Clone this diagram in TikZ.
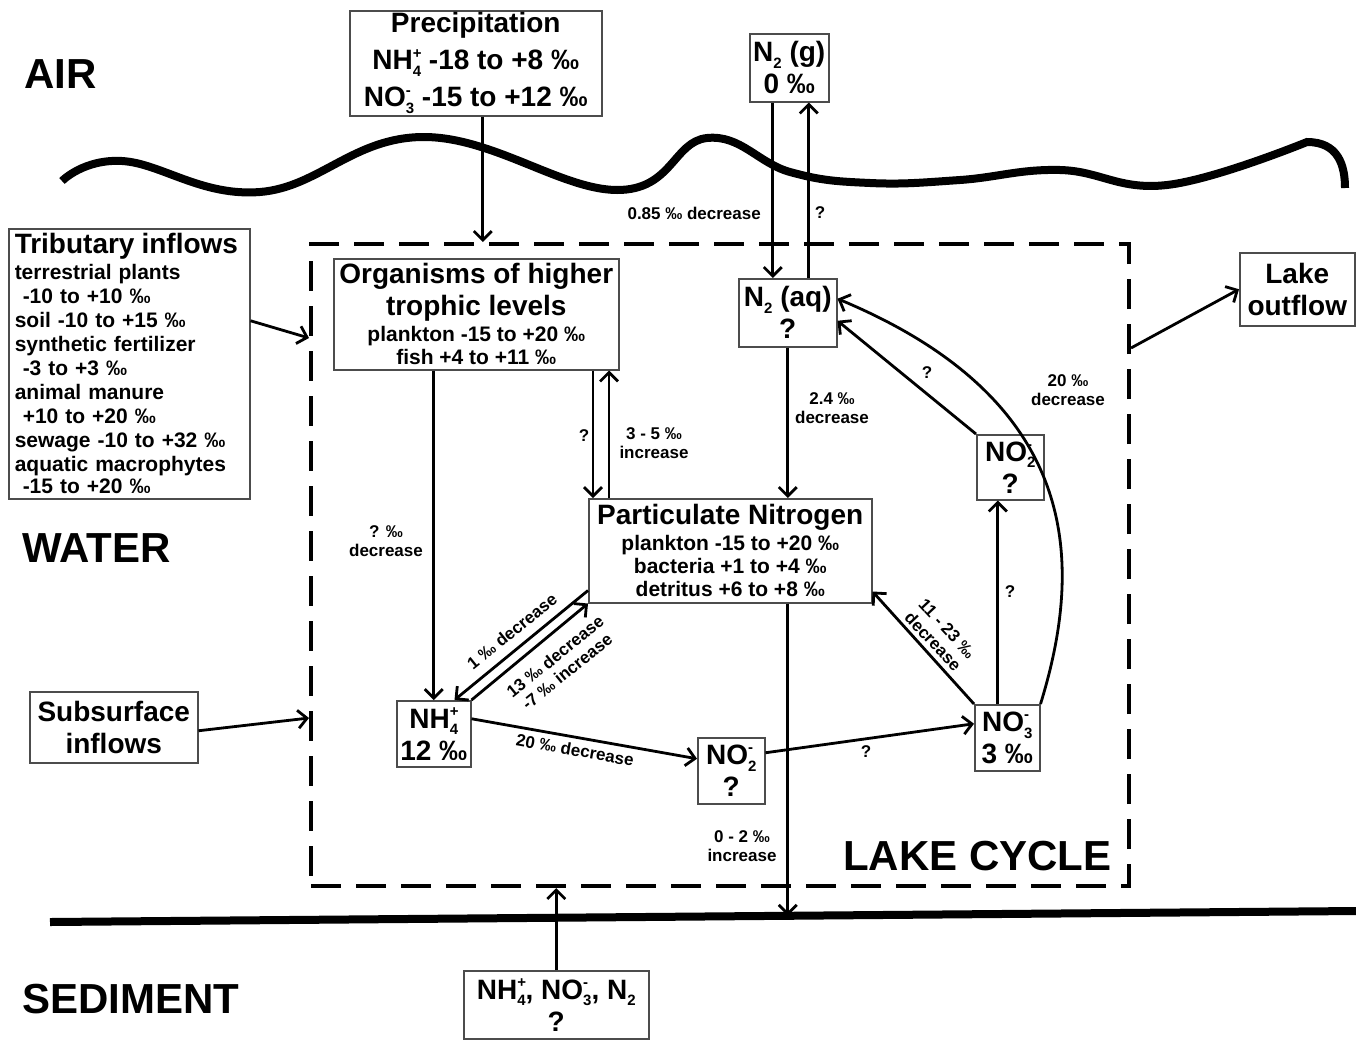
\documentclass[tikz,border=0pt]{standalone}
\usepackage{fontspec}
\setmainfont{Liberation Sans}
\usetikzlibrary{arrows.meta,calc}
\newcommand{\ionx}[3]{#1\rlap{\raisebox{0.8ex}{\fontsize{15}{15}\selectfont #3}}\raisebox{-0.45ex}{\fontsize{15}{15}\selectfont #2}}
\newcommand{\Hd}{\fontsize{28}{33}\selectfont}
\newcommand{\Bd}{\fontsize{21}{24}\selectfont}
\begin{document}
\begin{tikzpicture}[x=1pt,y=-1pt,
  box/.style={draw=black!70, line width=1.5pt, fill=white, inner sep=0pt, align=center, anchor=north west, font=\bfseries\fontsize{21}{22}\selectfont},
  arr/.style={line width=2.8pt, -{Straight Barb[length=9pt,width=18pt]}},
  lab/.style={font=\bfseries\fontsize{17}{19}\selectfont, inner sep=1pt, align=center},
  big/.style={font=\bfseries\fontsize{42}{48}\selectfont, inner sep=0pt, anchor=base west}]
\useasboundingbox (0,0) rectangle (1356,1039);

% zone titles
\node[big] (air) at (24,88) {AIR};
\node[big] (water) at (22,562) {WATER};
\node[big] (sediment) at (22,1013) {SEDIMENT};
\node[big] (lakecycle) at (843,870) {LAKE CYCLE};

% water surface and sediment surface
\draw[line width=8pt] plot[smooth, tension=0.7] coordinates {(62,181) (122,161) (260,192) (423,137) (617,190) (707,138) (790,172) (870,183) (960,180) (1060,170) (1167,185) (1307,142)}
  .. controls (1338,142) and (1345,165) .. (1345,188);
\coordinate (sedL) at (50,922);
\coordinate (sedR) at (1356,911);
\draw[line width=8pt] (sedL) -- (sedR);

% lake cycle box
\node[draw, line width=4pt, dash pattern=on 30pt off 15pt, minimum width=818pt, minimum height=642pt, anchor=north west, inner sep=0pt] (lake) at (309,242) {};

% boxes
\node[box, minimum width=252pt, minimum height=105pt, font=\bfseries\fontsize{28}{36}\selectfont] (prec) at (349,10)
  {\Hd Precipitation\\[1pt] \Hd\ionx{NH}{4}{+} -18 to +8 ‰\\[1pt] \Hd\ionx{NO}{3}{-} -15 to +12 ‰};
\node[box, minimum width=79pt, minimum height=68pt, font=\bfseries\fontsize{28}{32}\selectfont] (n2g) at (749,33)
  {\Hd\ionx{N}{2}{} (g)\\ \Hd 0 ‰};
\node[box, minimum width=241pt, minimum height=270pt, align=left, text width=229pt, inner xsep=6pt] (trib) at (8,228)
  {\Hd Tributary inflows\\[2pt]
   \Bd terrestrial plants\\
   \Bd\hspace*{8pt}-10 to +10 ‰\\
   \Bd soil -10 to +15 ‰\\
   \Bd synthetic fertilizer\\
   \Bd\hspace*{8pt}-3 to +3 ‰\\
   \Bd animal manure\\
   \Bd\hspace*{8pt}+10 to +20 ‰\\
   \Bd sewage -10 to +32 ‰\\
   \Bd aquatic macrophytes\\
   \Bd\hspace*{8pt}-15 to +20 ‰};
\node[box, minimum width=168pt, minimum height=71pt, font=\bfseries\fontsize{28}{32}\selectfont] (subs) at (29,691)
  {\Hd Subsurface\\ \Hd inflows};
\node[box, minimum width=115pt, minimum height=73pt, font=\bfseries\fontsize{28}{32}\selectfont] (outf) at (1239,252)
  {\Hd Lake\\ \Hd outflow};
\node[box, minimum width=285pt, minimum height=111pt] (org) at (333,258)
  {\Hd Organisms of higher\\[5pt] \Hd trophic levels\\[4pt] \Bd plankton -15 to +20 ‰\\[1pt] \Bd fish +4 to +11 ‰};
\node[box, minimum width=98pt, minimum height=68pt, font=\bfseries\fontsize{28}{32}\selectfont] (n2aq) at (738,278)
  {\Hd\ionx{N}{2}{} (aq)\\ \Hd ?};
\node[box, minimum width=283pt, minimum height=104pt] (pn) at (588,498)
  {\Hd Particulate Nitrogen\\[4pt] \Bd plankton -15 to +20 ‰\\[1pt] \Bd bacteria +1 to +4 ‰\\[1pt] \Bd detritus +6 to +8 ‰};
\node[box, minimum width=67pt, minimum height=65pt, font=\bfseries\fontsize{28}{32}\selectfont] (no2r) at (976,434)
  {\Hd\ionx{NO}{2}{-}\\ \Hd ?};
\node[box, minimum width=74pt, minimum height=66pt, font=\bfseries\fontsize{28}{32}\selectfont] (nh4) at (396,700)
  {\Hd\ionx{NH}{4}{+}\\ \Hd 12 ‰};
\node[box, minimum width=67pt, minimum height=66pt, font=\bfseries\fontsize{28}{32}\selectfont] (no2m) at (697,737)
  {\Hd\ionx{NO}{2}{-}\\ \Hd ?};
\node[box, minimum width=65pt, minimum height=66pt, font=\bfseries\fontsize{28}{32}\selectfont] (no3) at (974,704)
  {\Hd\ionx{NO}{3}{-}\\ \Hd 3 ‰};
\node[box, minimum width=185pt, minimum height=68pt, font=\bfseries\fontsize{28}{32}\selectfont] (sed) at (463,970)
  {\Hd\ionx{NH}{4}{+}, \ionx{NO}{3}{-}, \ionx{N}{2}{}\\ \Hd ?};

% connectors
\coordinate (c1) at ([xshift=7pt]prec.south);
\draw[arr] (c1) -- (c1 |- lake.north);
\coordinate (c2) at ([xshift=-16.5pt]n2g.south);
\draw[arr] (c2) -- (c2 |- n2aq.north);
\coordinate (c3) at ([xshift=19.5pt]n2g.south);
\draw[arr] (c3 |- n2aq.north) -- (c3);
\draw[arr] (n2aq.south) -- (n2aq.south |- pn.north);
\draw[arr] (nh4.north |- org.south) -- (nh4.north);
\coordinate (c6) at ([xshift=5pt]pn.north west);
\draw[arr] (c6 |- org.south) -- (c6);
\coordinate (c7) at ([xshift=21pt]pn.north west);
\draw[arr] (c7) -- (c7 |- org.south);
\draw[arr] ([yshift=13pt]pn.south west) -- ([xshift=-17pt]nh4.north east);
\draw[arr] (nh4.north east) -- (pn.south west);
\draw[arr] ([yshift=15pt]nh4.east) -- ([yshift=12pt]no2m.west);
\draw[arr] ([yshift=18pt]no2m.east) -- ([yshift=14pt]no3.west);
\draw[arr] (no3.north west) -- ([yshift=12pt]pn.south east);
\coordinate (c13) at ([xshift=-9.5pt]no3.north);
\draw[arr] (c13) -- (c13 |- no2r.south);
\draw[arr] (no2r.north west) -- ([yshift=-8pt]n2aq.east);
\draw[arr] (no3.north east) .. controls (1085,560) and (1080,400) .. ([yshift=14pt]n2aq.east);
\coordinate (hit) at ($(sedL)!0.5644!(sedR)$);
\coordinate (c16) at ([xshift=57.5pt]pn.south);
\draw[arr] (c16) -- (c16 |- hit);
\draw[arr] (sed.north) -- (sed.north |- lake.south);
\coordinate (tribin) at ($(lake.north west)+(0,96)$);
\draw[arr] ([yshift=43pt]trib.east) -- (tribin);
\coordinate (subsin) at ($(lake.north west)+(0,476)$);
\draw[arr] ([yshift=-3.5pt]subs.east) -- (subsin);
\coordinate (outst) at ($(lake.north east)+(0,106)$);
\draw[arr] (outst) -- (outf.west);

% labels
\node[lab, anchor=east] (l1) at (762,213) {0.85 ‰ decrease};
\node[lab] (l2) at (820,213) {?};
\node[lab] (l3) at (832,408) {2.4 ‰\\decrease};
\node[lab] (l4) at (386,541) {? ‰\\decrease};
\node[lab] (l5) at (584,436) {?};
\node[lab] (l6) at (654,443) {3 - 5 ‰\\increase};
\node[lab, rotate=39] (l7) at (512,631) {1 ‰ decrease};
\node[lab, rotate=39] (l8) at (561,664) {13 ‰ decrease\\-7 ‰ increase};
\node[lab, rotate=-10] (l9) at (575,750) {20 ‰ decrease};
\node[lab] (l10) at (866,752) {?};
\node[lab, rotate=-47] (l11) at (940,635) {11 - 23 ‰\\decrease};
\node[lab] (l12) at (1010,592) {?};
\node[lab] (l13) at (927,373) {?};
\node[lab] (l14) at (1068,390) {20 ‰\\decrease};
\node[lab] (l15) at (742,846) {0 - 2 ‰\\increase};
\end{tikzpicture}
\end{document}
